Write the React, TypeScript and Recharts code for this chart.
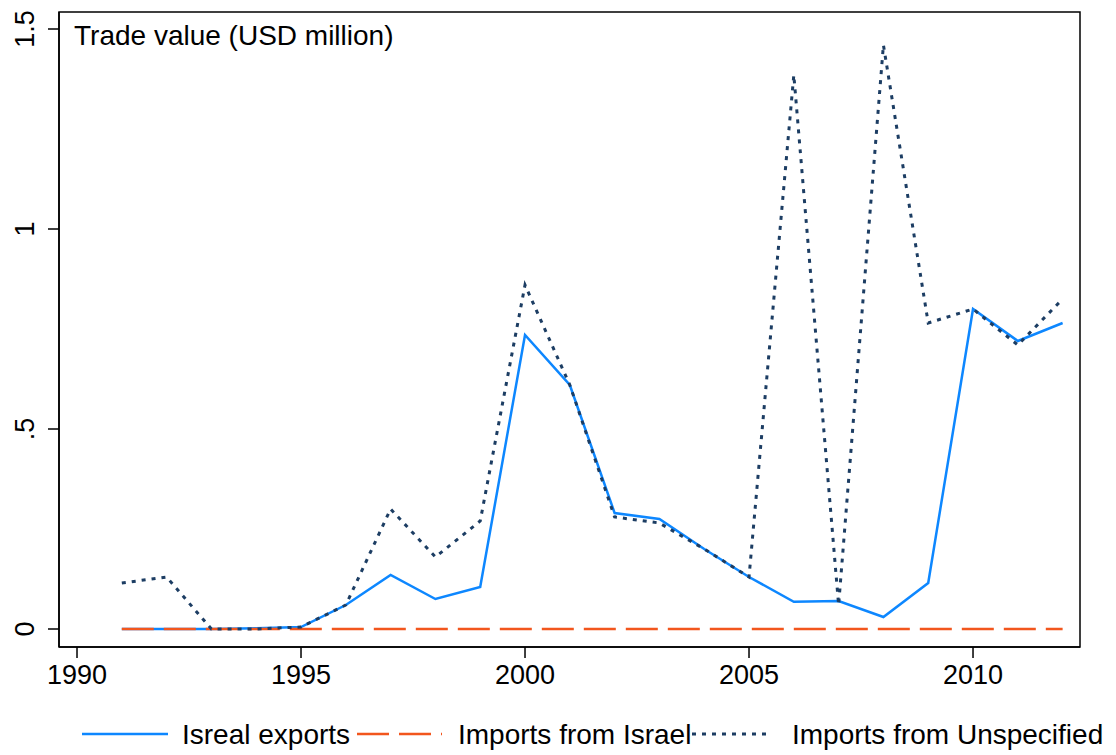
import React from 'react';
import { LineChart, Line, XAxis, YAxis, ReferenceArea } from 'recharts';

const years = [1991, 1992, 1993, 1994, 1995, 1996, 1997, 1998, 1999, 2000, 2001, 2002, 2003, 2004, 2005, 2006, 2007, 2008, 2009, 2010, 2011, 2012];
const israelExports = [0, 0, 0, 0.002, 0.005, 0.06, 0.135, 0.075, 0.105, 0.735, 0.61, 0.29, 0.275, 0.2, 0.13, 0.068, 0.07, 0.03, 0.115, 0.8, 0.72, 0.765];
const importsFromIsrael = [0, 0, 0, 0, 0, 0, 0, 0, 0, 0, 0, 0, 0, 0, 0, 0, 0, 0, 0, 0, 0, 0];
const importsFromUnspecified = [0.115, 0.13, 0, 0, 0.005, 0.06, 0.3, 0.18, 0.27, 0.86, 0.61, 0.28, 0.265, 0.2, 0.13, 1.385, 0.06, 1.46, 0.765, 0.8, 0.71, 0.825];
const xTicks = [1990, 1995, 2000, 2005, 2010];
const yTicks = [0, 0.5, 1, 1.5];
const yTickLabels = ['0', '.5', '1', '1.5'];
const seriesNames = ['Isreal exports', 'Imports from Israel', 'Imports from Unspecified'];

const data = years.map((y, i) => ({
  year: y,
  exp: israelExports[i],
  impIsr: importsFromIsrael[i],
  impUns: importsFromUnspecified[i],
}));

const FONT = '"Liberation Sans", Arial, sans-serif';
const BLUE = '#0d87ff';
const ORANGE = '#f2561d';
const NAVY = '#1c3d63';

const X_MIN = 1989.598;
const X_MAX = 2012.388;
const Y_MIN = -0.045;
const Y_MAX = 1.5425;

const YTick = (props: any) => {
  const { y, payload } = props;
  const idx = yTicks.indexOf(payload.value);
  const label = idx >= 0 ? yTickLabels[idx] : String(payload.value);
  const tx = 33.5;
  return (
    <text x={tx} y={y} transform={`rotate(-90, ${tx}, ${y})`} textAnchor="middle" fontSize={27} fontFamily={FONT} fill="#000">
      {label}
    </text>
  );
};

const XTick = (props: any) => {
  const { x, payload } = props;
  return (
    <text x={x} y={684} textAnchor="middle" fontSize={27} fontFamily={FONT} fill="#000">
      {payload.value}
    </text>
  );
};

export default function App() {
  return (
    <div style={{ position: 'absolute', left: 0, top: 0, width: 1116, height: 755, background: '#fff' }}>
      <LineChart width={1116} height={755} data={data} margin={{ top: 12, right: 36, left: 0, bottom: 68 }}>
        <XAxis
          dataKey="year"
          type="number"
          domain={[X_MIN, X_MAX]}
          ticks={xTicks}
          allowDataOverflow
          height={40}
          tick={<XTick />}
          tickSize={11}
          tickLine={{ stroke: '#000', strokeWidth: 1.5 }}
          axisLine={{ stroke: '#000', strokeWidth: 1.5 }}
        />
        <YAxis
          type="number"
          domain={[Y_MIN, Y_MAX]}
          ticks={yTicks}
          allowDataOverflow
          width={59}
          tick={<YTick />}
          tickSize={11}
          tickLine={{ stroke: '#000', strokeWidth: 1.5 }}
          axisLine={{ stroke: '#000', strokeWidth: 1.5 }}
          label={{
            content: () => (
              <text x={74} y={45} fontSize={28} fontFamily={FONT} fill="#000">
                Trade value (USD million)
              </text>
            ),
          }}
        />
        <ReferenceArea x1={X_MIN} x2={X_MAX} y1={Y_MIN} y2={Y_MAX} fill="none" stroke="#000" strokeWidth={1.5} ifOverflow="extendDomain" />
        <Line dataKey="exp" name={seriesNames[0]} stroke={BLUE} strokeWidth={2.5} dot={false} isAnimationActive={false} />
        <Line dataKey="impIsr" name={seriesNames[1]} stroke={ORANGE} strokeWidth={2.5} strokeDasharray="32 10" dot={false} isAnimationActive={false} />
        <Line dataKey="impUns" name={seriesNames[2]} stroke={NAVY} strokeWidth={3} strokeDasharray="4 6" dot={false} isAnimationActive={false} />
      </LineChart>
      <svg style={{ position: 'absolute', left: 0, top: 700 }} width={1116} height={55}>
        <line x1={82} x2={168} y1={34} y2={34} stroke={BLUE} strokeWidth={2.5} />
        <text x={182} y={44} fontSize={28} fontFamily={FONT} fill="#000">{seriesNames[0]}</text>
        <line x1={357} x2={442} y1={34} y2={34} stroke={ORANGE} strokeWidth={2.5} strokeDasharray="32 10" />
        <text x={458} y={44} fontSize={28} fontFamily={FONT} fill="#000">{seriesNames[1]}</text>
        <line x1={692} x2={772} y1={34} y2={34} stroke={NAVY} strokeWidth={3} strokeDasharray="4 6" />
        <text x={792} y={44} fontSize={28} fontFamily={FONT} fill="#000">{seriesNames[2]}</text>
      </svg>
    </div>
  );
}
